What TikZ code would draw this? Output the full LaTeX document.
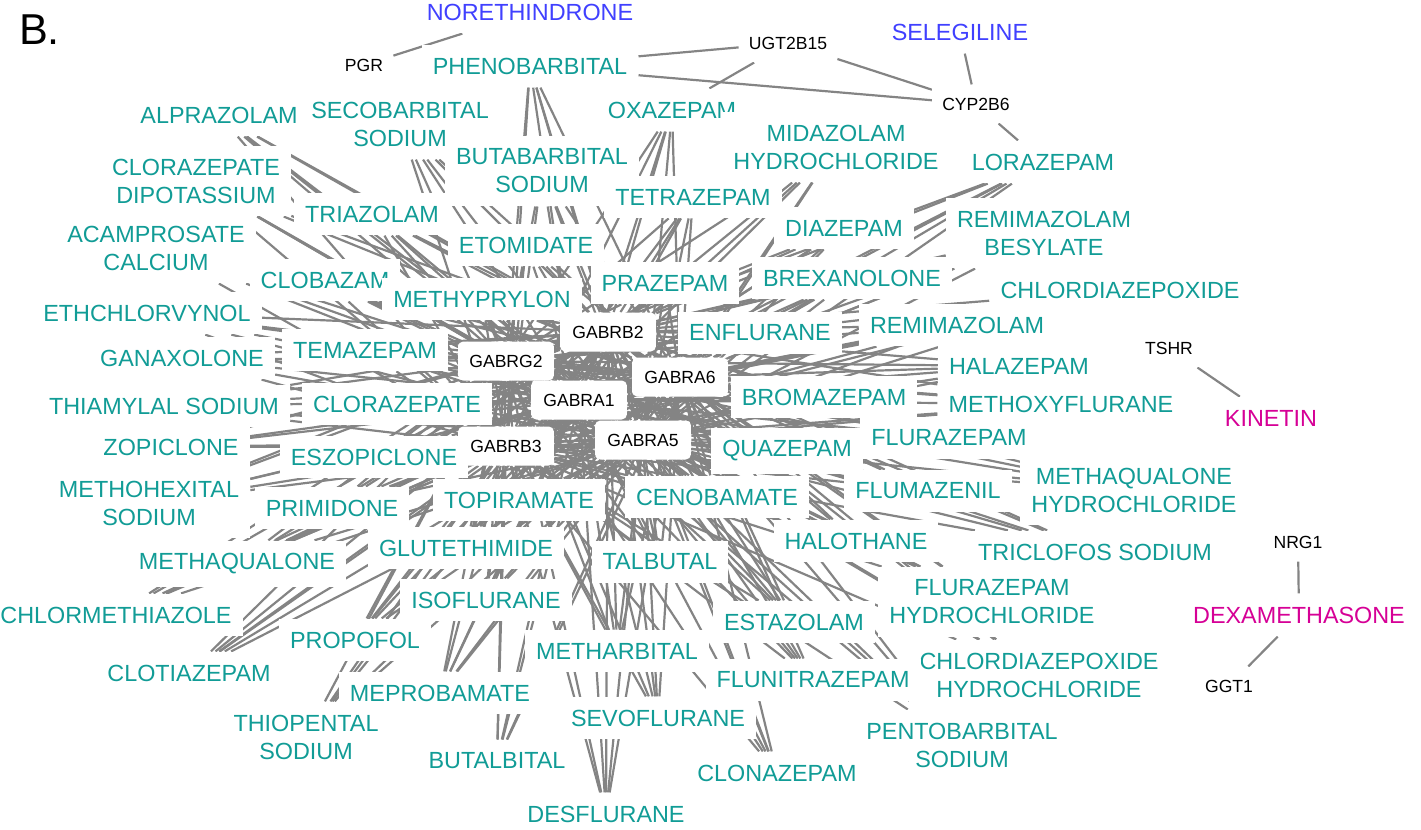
\documentclass[tikz,border=0pt]{standalone}
\usepackage{fontspec}
\setmainfont{Liberation Sans}
\pgfdeclarelayer{background}
\pgfsetlayers{background,main}
\definecolor{drugteal}{RGB}{17,156,150}
\definecolor{drugblue}{RGB}{64,64,255}
\definecolor{drugmag}{RGB}{214,0,150}
\definecolor{edgegray}{RGB}{132,132,132}
\newcommand\drugfnt{\fontsize{13.3}{15.9}\selectfont}
\newcommand\genefnt{\fontsize{10}{12}\selectfont}
\tikzset{
  drug/.style={font=\drugfnt, text=drugteal, fill=white, inner xsep=0.22cm, inner ysep=0.26cm, align=center},
  bluedrug/.style={drug, text=drugblue},
  magdrug/.style={drug, text=drugmag},
  gaba/.style={font=\genefnt, text=black, fill=white, rounded corners=3pt, minimum width=1.92cm, minimum height=0.78cm, inner sep=0pt},
  gene/.style={font=\genefnt, text=black, fill=white, inner xsep=0.2cm, inner ysep=0.26cm},
  edge/.style={draw=edgegray, line width=1.25pt},
  paneltitle/.style={font=\fontsize{24.6}{28}\selectfont, inner sep=0pt}
}
\begin{document}
\begin{tikzpicture}[x=0.02cm,y=-0.02cm]
\useasboundingbox (0,0) rectangle (1421,829);
\node[paneltitle] (title) at (39.5,29.5) {B.};
% drugs
\node[drug] (phenob) at (530,66) {PHENOBARBITAL};
\node[drug] (secob) at (400,124) {SECOBARBITAL\\SODIUM};
\node[drug] (alpraz) at (219,115) {ALPRAZOLAM};
\node[drug] (oxaz) at (672,110) {OXAZEPAM};
\node[drug] (butab) at (542,171) {BUTABARBITAL\\SODIUM};
\node[drug] (midaz) at (836,147) {MIDAZOLAM\\HYDROCHLORIDE};
\node[drug] (loraz) at (1043,162) {LORAZEPAM};
\node[drug] (cloradi) at (196,181) {CLORAZEPATE\\DIPOTASSIUM};
\node[drug] (tetraz) at (693,197) {TETRAZEPAM};
\node[drug] (triaz) at (372,214) {TRIAZOLAM};
\node[drug] (diaz) at (844,228) {DIAZEPAM};
\node[drug] (remibes) at (1044,233) {REMIMAZOLAM\\BESYLATE};
\node[drug] (acamp) at (156,248) {ACAMPROSATE\\CALCIUM};
\node[drug] (etom) at (526,245) {ETOMIDATE};
\node[drug] (clob) at (325,280) {CLOBAZAM};
\node[drug] (praz) at (665,283) {PRAZEPAM};
\node[drug] (brex) at (852,278) {BREXANOLONE};
\node[drug] (methyp) at (482,299) {METHYPRYLON};
\node[drug] (chlordi) at (1120,290) {CHLORDIAZEPOXIDE};
\node[drug] (ethchl) at (147,313) {ETHCHLORVYNOL};
\node[drug] (enflu) at (760,333) {ENFLURANE};
\node[drug] (remi) at (957,325) {REMIMAZOLAM};
\node[drug] (ganax) at (182,358) {GANAXOLONE};
\node[drug] (temaz) at (365,350) {TEMAZEPAM};
\node[drug] (halaz) at (1019,366) {HALAZEPAM};
\node[drug] (thiam) at (164,406) {THIAMYLAL SODIUM};
\node[drug] (cloraz) at (397,404) {CLORAZEPATE};
\node[drug] (bromaz) at (824,397) {BROMAZEPAM};
\node[drug] (methox) at (1061,404) {METHOXYFLURANE};
\node[drug] (zopic) at (171,447) {ZOPICLONE};
\node[drug] (eszop) at (374,457) {ESZOPICLONE};
\node[drug] (quaz) at (787,451) {QUAZEPAM};
\node[drug] (fluraz) at (949,438) {FLURAZEPAM};
\node[drug] (methohex) at (149,503) {METHOHEXITAL\\SODIUM};
\node[drug] (primid) at (332,508) {PRIMIDONE};
\node[drug] (topir) at (519,500) {TOPIRAMATE};
\node[drug] (cenob) at (717,497) {CENOBAMATE};
\node[drug] (flumaz) at (928,491) {FLUMAZENIL};
\node[drug] (methaqhcl) at (1134,490) {METHAQUALONE\\HYDROCHLORIDE};
\node[drug] (gluteth) at (466,548) {GLUTETHIMIDE};
\node[drug] (talb) at (660,562) {TALBUTAL};
\node[drug] (haloth) at (856,541) {HALOTHANE};
\node[drug] (triclo) at (1095,552) {TRICLOFOS SODIUM};
\node[drug] (methaq) at (237,564) {METHAQUALONE};
\node[drug] (chlormeth) at (116,615) {CHLORMETHIAZOLE};
\node[drug] (isoflu) at (486,600) {ISOFLURANE};
\node[drug] (flurazhcl) at (992,602) {FLURAZEPAM\\HYDROCHLORIDE};
\node[drug] (estaz) at (794,622) {ESTAZOLAM};
\node[drug] (propof) at (355,640) {PROPOFOL};
\node[drug] (methar) at (617,651) {METHARBITAL};
\node[drug] (clotiaz) at (189,673) {CLOTIAZEPAM};
\node[drug] (chlordihcl) at (1039,675) {CHLORDIAZEPOXIDE\\HYDROCHLORIDE};
\node[drug] (flunit) at (813,680) {FLUNITRAZEPAM};
\node[drug] (meprob) at (440,693) {MEPROBAMATE};
\node[drug] (thiopent) at (306,737) {THIOPENTAL\\SODIUM};
\node[drug] (sevo) at (658,718) {SEVOFLURANE};
\node[drug] (pentob) at (962,745) {PENTOBARBITAL\\SODIUM};
\node[drug] (butalb) at (497,761) {BUTALBITAL};
\node[drug] (clonaz) at (777,773) {CLONAZEPAM};
\node[drug] (desflu) at (606,814) {DESFLURANE};
% other-coloured drugs
\node[bluedrug] (noreth) at (530,12) {NORETHINDRONE};
\node[bluedrug] (seleg) at (960,32) {SELEGILINE};
\node[magdrug] (kinetin) at (1271,418) {KINETIN};
\node[magdrug] (dexa) at (1299,615) {DEXAMETHASONE};
% peripheral genes
\node[gene] (pgr) at (364,65) {PGR};
\node[gene] (ugt) at (788,43) {UGT2B15};
\node[gene] (cyp) at (976,104) {CYP2B6};
\node[gene] (tshr) at (1169,348) {TSHR};
\node[gene] (nrg) at (1298,542) {NRG1};
\node[gene] (ggt) at (1229,686) {GGT1};
% GABA receptor genes
\node[gaba] (gabrb2) at (608,332) {GABRB2};
\node[gaba] (gabrg2) at (506,361) {GABRG2};
\node[gaba] (gabra1) at (579,400) {GABRA1};
\node[gaba] (gabra6) at (680,377) {GABRA6};
\node[gaba] (gabra5) at (643,440) {GABRA5};
\node[gaba] (gabrb3) at (506,446) {GABRB3};
\begin{pgfonlayer}{background}
\foreach \d in {phenob,secob,alpraz,oxaz,butab,midaz,loraz,cloradi,tetraz,triaz,diaz,remibes,acamp,etom,clob,praz,brex,methyp,chlordi,ethchl,enflu,remi,ganax,temaz,halaz,thiam,cloraz,bromaz,methox,zopic,eszop,quaz,fluraz,methohex,primid,topir,cenob,flumaz,methaqhcl,gluteth,talb,haloth,triclo,methaq,chlormeth,isoflu,flurazhcl,estaz,propof,methar,clotiaz,chlordihcl,flunit,meprob,thiopent,sevo,pentob,butalb,clonaz,desflu}{
  \foreach \g in {gabrb2,gabrg2,gabra1,gabra6,gabra5,gabrb3}{
    \draw[edge] (\d) -- (\g);
  }
}
\draw[edge] (pgr) -- (noreth);
\draw[edge] (phenob) -- (ugt);
\draw[edge] (phenob) -- (cyp);
\draw[edge] (oxaz) -- (ugt);
\draw[edge] (ugt) -- (cyp);
\draw[edge] (seleg) -- (cyp);
\draw[edge] (cyp) -- (midaz);
\draw[edge] (cyp) -- (loraz);
\draw[edge] (tshr) -- (kinetin);
\draw[edge] (nrg) -- (dexa);
\draw[edge] (dexa) -- (ggt);
\end{pgfonlayer}
\end{tikzpicture}
\end{document}
